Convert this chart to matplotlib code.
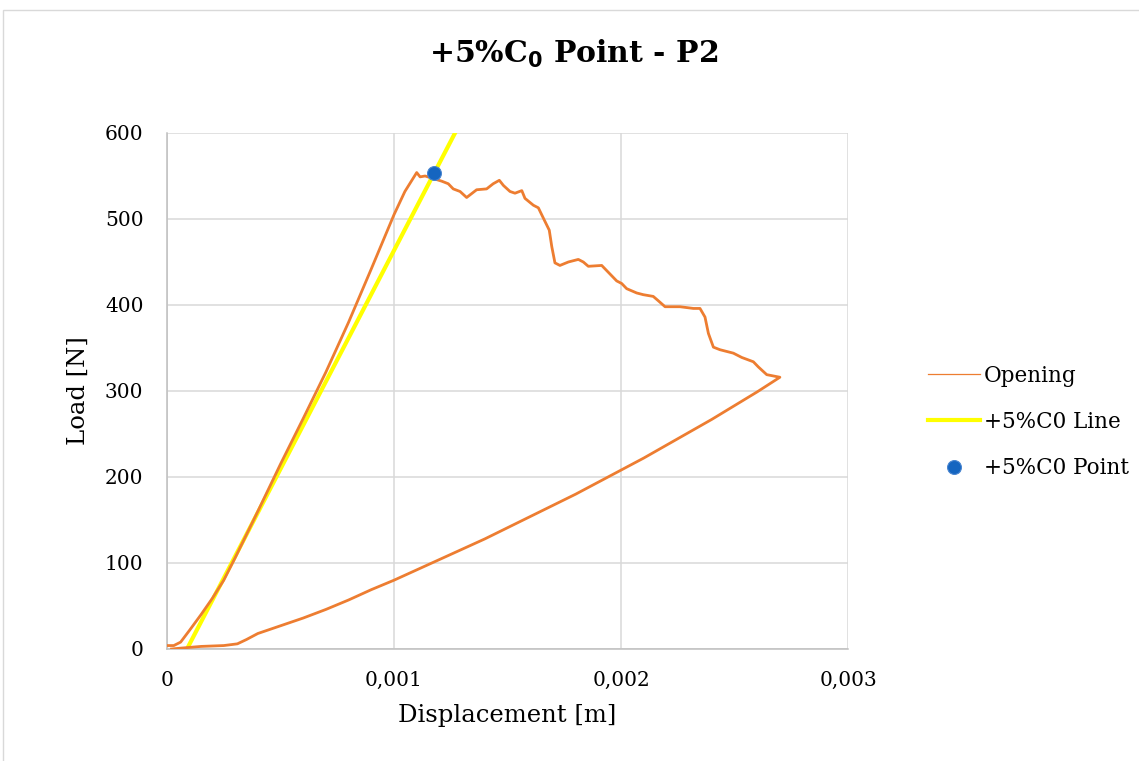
import matplotlib
matplotlib.use("Agg")
import matplotlib.pyplot as plt
from matplotlib.lines import Line2D
from matplotlib.patches import Rectangle

# Load–displacement record of specimen P2 (loading, softening, unloading)
opening_disp = [
    0.0, 0.00003, 0.00006, 0.00010, 0.00015, 0.00020, 0.00025, 0.00030,
    0.00040, 0.00050, 0.00060, 0.00070, 0.00080, 0.00090, 0.00100,
    0.001048, 0.001100, 0.001115, 0.001137, 0.001173, 0.001210, 0.001239,
    0.001261, 0.001291, 0.001320, 0.001364, 0.001408, 0.001437, 0.001464,
    0.001482, 0.001511, 0.001533, 0.001563, 0.001577, 0.001614, 0.001636,
    0.001658, 0.001684, 0.001695, 0.001709, 0.001731, 0.001768, 0.001812,
    0.001834, 0.001856, 0.001915, 0.001937, 0.001981, 0.002003, 0.002025,
    0.002069, 0.002098, 0.002142, 0.002164, 0.002194, 0.002260, 0.002319,
    0.002348, 0.002370, 0.002385, 0.002407, 0.002436, 0.002495, 0.002532,
    0.002583, 0.002605, 0.002642, 0.002700,
    0.002600, 0.002500, 0.002400, 0.002300, 0.002200, 0.002100, 0.002000,
    0.001900, 0.001800, 0.001700, 0.001600, 0.001500, 0.001400, 0.001300,
    0.001200, 0.001100, 0.001000, 0.000900, 0.000800, 0.000700, 0.000600,
    0.000500, 0.000400, 0.000350, 0.000310, 0.000250, 0.000150, 0.000060,
    0.000020,
]
opening_load = [
    4, 4, 8, 22, 40, 59, 80, 106,
    160, 215, 268, 322, 380, 442, 505,
    532, 554, 549, 550, 547, 544, 541,
    535, 532, 525, 534, 535, 541, 545,
    539, 532, 530, 533, 524, 516, 513,
    501, 487, 468, 449, 446, 450, 453,
    450, 445, 446, 440, 428, 425, 419,
    414, 412, 410, 405, 398, 398, 396,
    396, 386, 367, 351, 348, 344, 339,
    334, 328, 319, 316,
    299, 283, 267, 252, 237, 222, 208,
    194, 180, 167, 154, 141, 128, 116,
    104, 92, 80, 69, 57, 46, 36,
    27, 18, 11, 6, 4, 3, 1,
    0,
]

# Secant line with 5 % increased initial compliance
line_disp = [0.000088, 0.001320]
line_load = [0.0, 626.0]

# Intersection of the secant line with the record
point_disp = [0.001176]
point_load = [553]

x_ticks = [0, 0.001, 0.002, 0.003]
x_tick_labels = ["0", "0,001", "0,002", "0,003"]
y_ticks = [0, 100, 200, 300, 400, 500, 600]

W, H = 1139, 761
fig = plt.figure(figsize=(W / 100, H / 100), dpi=100)
plt.rcParams["font.family"] = ["DejaVu Serif"]

# outer chart frame
fig.patches.append(Rectangle((3 / W, -0.05), 1.2, 1 - 10 / H + 0.05,
                             transform=fig.transFigure, fill=False,
                             edgecolor="#d9d9d9", linewidth=1.0))

ax = fig.add_axes([167 / W, (H - 649) / H, (848 - 167) / W, (649 - 133) / H])

orange = "#ED7D31"
ax.plot(opening_disp, opening_load, color=orange, linewidth=2.0,
        solid_joinstyle="round", zorder=3)
ax.plot(line_disp, line_load, color="#FFFF00", linewidth=3.0, zorder=2)
ax.plot(point_disp, point_load, "o", color="#1565C0", markersize=10,
        markeredgecolor="#4a86d0", markeredgewidth=0.8, zorder=4)

ax.set_xlim(0, 0.003)
ax.set_ylim(0, 600)
ax.set_xticks(x_ticks)
ax.set_xticklabels(x_tick_labels)
ax.set_yticks(y_ticks)
ax.grid(True, color="#d9d9d9", linewidth=1.1)
ax.set_axisbelow(True)
for side in ["top", "right"]:
    ax.spines[side].set_visible(False)
for side in ["left", "bottom"]:
    ax.spines[side].set_color("#bfbfbf")
    ax.spines[side].set_linewidth(1.1)
ax.tick_params(length=0, labelsize=14.5, colors="#000000")
ax.tick_params(axis="x", pad=16)
ax.tick_params(axis="y", pad=17)

ax.set_xlabel("Displacement [m]", fontsize=17.5, labelpad=10)
ax.set_ylabel("Load [N]", fontsize=17.5, labelpad=11)

fig.text(574 / W, 1 - 54 / H, r"+5%C$_\mathbf{0}$ Point - P2", ha="center",
         va="center", fontsize=21.5, fontweight="bold")

handles = [
    Line2D([], [], color=orange, linewidth=0.9),
    Line2D([], [], color="#FFFF00", linewidth=3.0),
    Line2D([], [], marker="o", linestyle="none", color="#1565C0",
           markersize=10, markeredgecolor="#4a86d0", markeredgewidth=0.8),
]
labels = ["Opening", "+5%C0 Line", "+5%C0 Point"]
fig.legend(handles, labels, loc="center left",
           bbox_to_anchor=(909 / W, 1 - 422 / H), frameon=False,
           fontsize=15.5, handlelength=2.4, handletextpad=0.18,
           labelspacing=1.12)

fig.savefig("out.png", dpi=100)
